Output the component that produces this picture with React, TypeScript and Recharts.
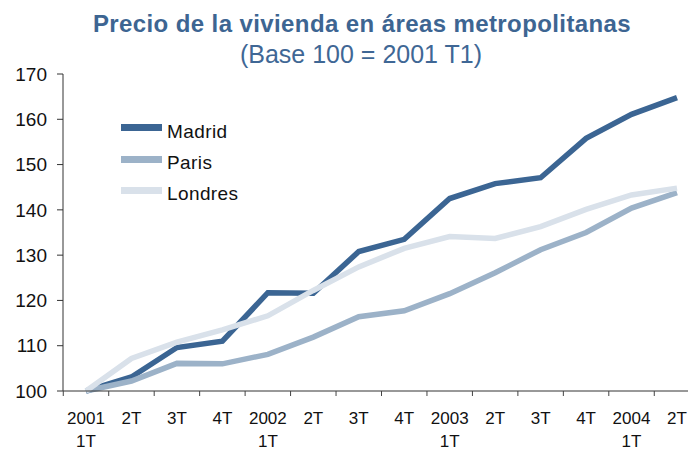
import React from 'react'
import { LineChart, Line, XAxis, YAxis, Legend } from 'recharts'

const FONT = '"Liberation Sans", Arial, Helvetica, sans-serif'

// trimestres 2001 T1 .. 2004 T2
const quarters = [
  '2001 1T', '2001 2T', '2001 3T', '2001 4T',
  '2002 1T', '2002 2T', '2002 3T', '2002 4T',
  '2003 1T', '2003 2T', '2003 3T', '2003 4T',
  '2004 1T', '2004 2T',
]
const tickTop = ['2001', '2T', '3T', '4T', '2002', '2T', '3T', '4T', '2003', '2T', '3T', '4T', '2004', '2T']
const tickBottom = ['1T', '', '', '', '1T', '', '', '', '1T', '', '', '', '1T', '']

const madrid = [100, 103.1, 109.6, 111, 121.7, 121.6, 130.8, 133.5, 142.5, 145.8, 147.1, 155.8, 161.1, 164.8]
const paris = [100, 102.2, 106.1, 106, 108.1, 111.9, 116.4, 117.7, 121.5, 126.1, 131.2, 135, 140.4, 143.8]
const londres = [100, 107.2, 110.8, 113.5, 116.6, 122.2, 127.4, 131.5, 134.1, 133.7, 136.3, 140.1, 143.3, 144.8]

const seriesOrder = ['Madrid', 'Paris', 'Londres']
const yTicks = [100, 110, 120, 130, 140, 150, 160, 170]

const data = quarters.map((q, i) => ({
  q,
  Madrid: madrid[i],
  Paris: paris[i],
  Londres: londres[i],
}))

const HALF = 22.73

function XTick(props: any) {
  const { x, y, payload } = props
  const i = payload.index
  return (
    <g>
      <line x1={x - HALF} x2={x - HALF} y1={y} y2={y + 5} stroke="#444" />
      {i === quarters.length - 1 && (
        <line x1={x + HALF} x2={x + HALF} y1={y} y2={y + 5} stroke="#444" />
      )}
      <text x={x} y={y + 33} textAnchor="middle" fontSize={17} fill="#111" fontFamily={FONT}>
        {tickTop[i]}
      </text>
      {tickBottom[i] && (
        <text x={x} y={y + 55.5} textAnchor="middle" fontSize={17} fill="#111" fontFamily={FONT}>
          {tickBottom[i]}
        </text>
      )}
    </g>
  )
}

function LegendBox({ payload }: any) {
  const items = [...(payload || [])].sort(
    (a: any, b: any) => seriesOrder.indexOf(a.value) - seriesOrder.indexOf(b.value)
  )
  return (
    <div style={{ fontFamily: FONT }}>
      {items.map((p: any) => (
        <div key={p.value} style={{ display: 'flex', alignItems: 'center', height: 31.4 }}>
          <div
            style={{
              width: 41,
              height: 7,
              background: p.color,
              marginRight: 5,
              position: 'relative',
              top: -3.5,
            }}
          />
          <span style={{ fontSize: 19, lineHeight: '31.4px', color: '#111', letterSpacing: 0.4 }}>
            {p.value}
          </span>
        </div>
      ))}
    </div>
  )
}

export default function App() {
  return (
    <div
      style={{
        position: 'fixed',
        left: 0,
        top: 0,
        width: 688,
        height: 449,
        overflow: 'hidden',
        background: '#fff',
        fontFamily: FONT,
      }}
    >
      <div
        style={{
          position: 'absolute',
          left: 0,
          width: 724,
          top: 12,
          textAlign: 'center',
          fontSize: 24,
          lineHeight: '24px',
          fontWeight: 'bold',
          letterSpacing: 0.4,
          color: '#3d6592',
        }}
      >
        Precio de la vivienda en áreas metropolitanas
      </div>
      <div
        style={{
          position: 'absolute',
          left: 0,
          width: 722,
          top: 42,
          textAlign: 'center',
          fontSize: 25,
          lineHeight: '25px',
          color: '#3f6795',
        }}
      >
        (Base 100 = 2001 T1)
      </div>
      <LineChart
        width={700}
        height={449}
        data={data}
        margin={{ top: 74, right: 0, bottom: 0, left: 0 }}
      >
        <XAxis
          dataKey="q"
          interval={0}
          padding={{ left: 23, right: 23 }}
          height={58}
          tickSize={0}
          tickMargin={0}
          tickLine={false}
          axisLine={{ stroke: '#333' }}
          tick={<XTick />}
        />
        <YAxis
          width={63}
          domain={[100, 170]}
          ticks={yTicks}
          interval={0}
          tickSize={6}
          tickMargin={10}
          axisLine={{ stroke: '#333' }}
          tickLine={{ stroke: '#333' }}
          tick={{ fontSize: 19, fill: '#111', fontFamily: FONT }}
        />
        <Legend
          layout="vertical"
          verticalAlign="middle"
          align="center"
          wrapperStyle={{ top: 115.5, left: 121, width: 160 }}
          content={<LegendBox />}
        />
        <Line
          type="linear"
          dataKey="Madrid"
          stroke="#3b6593"
          strokeWidth={5.5}
          dot={false}
          activeDot={false}
          isAnimationActive={false}
        />
        <Line
          type="linear"
          dataKey="Paris"
          stroke="#9cb2c8"
          strokeWidth={5.5}
          dot={false}
          activeDot={false}
          isAnimationActive={false}
        />
        <Line
          type="linear"
          dataKey="Londres"
          stroke="#d9e1ea"
          strokeWidth={5.5}
          dot={false}
          activeDot={false}
          isAnimationActive={false}
        />
      </LineChart>
    </div>
  )
}
